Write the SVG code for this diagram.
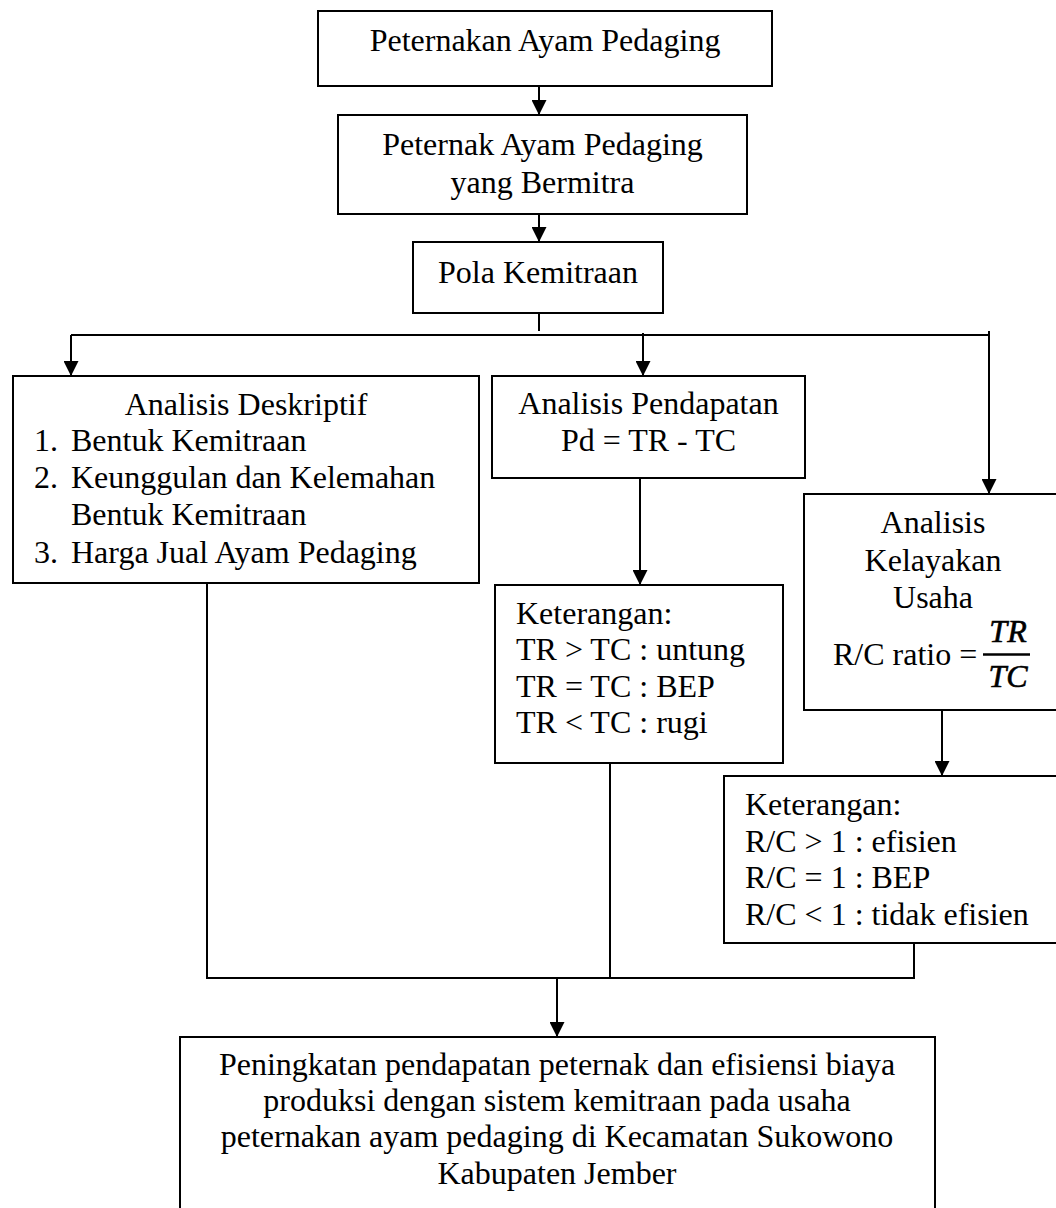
<svg xmlns="http://www.w3.org/2000/svg" width="1056" height="1208" viewBox="0 0 1056 1208">
  <style>
    .box { fill: none; stroke: #000; stroke-width: 2; }
    .t { font-family: "Liberation Serif", "Times New Roman", serif; font-size: 32px; fill: #000; }
    .c { text-anchor: middle; }
    .math { font-family: "Liberation Serif", "Times New Roman", serif; font-size: 32px; font-style: italic; fill: #000; stroke: #000; stroke-width: 0.6; text-anchor: middle; }
    .conn { fill: none; stroke: #000; stroke-width: 2; }
    .arrow { marker-end: url(#head); }
  </style>
  <defs>
    <marker id="head" viewBox="0 0 14 14" refX="14" refY="7" markerWidth="15" markerHeight="15" markerUnits="userSpaceOnUse" orient="auto">
      <path d="M0,0 L14,7 L0,14 z" fill="#000"/>
    </marker>
  </defs>

  <rect x="0" y="0" width="1056" height="1208" fill="#fff"/>

  <!-- connectors -->
  <g id="connectors">
    <line class="conn arrow" x1="539" y1="86" x2="539" y2="115"/>
    <line class="conn arrow" x1="539" y1="214" x2="539" y2="242"/>
    <line class="conn" x1="539" y1="313" x2="539" y2="331"/>
    <line class="conn" x1="71" y1="335" x2="990" y2="335"/>
    <line class="conn arrow" x1="71" y1="335" x2="71" y2="376"/>
    <line class="conn arrow" x1="643" y1="333" x2="643" y2="376"/>
    <line class="conn arrow" x1="989" y1="331" x2="989" y2="494"/>
    <line class="conn arrow" x1="640" y1="478" x2="640" y2="585"/>
    <line class="conn arrow" x1="942" y1="710" x2="942" y2="776"/>
    <polyline class="conn" points="207,583 207,978 914,978 914,943"/>
    <line class="conn" x1="610" y1="763" x2="610" y2="978"/>
    <line class="conn arrow" x1="557" y1="978" x2="557" y2="1037"/>
  </g>

  <!-- nodes -->
  <g id="peternakan">
    <rect class="box" x="318" y="11" width="454" height="75"/>
    <text class="t c" x="545" y="51">Peternakan Ayam Pedaging</text>
  </g>

  <g id="peternak-bermitra">
    <rect class="box" x="338" y="115" width="409" height="99"/>
    <text class="t c" x="542.5" y="155">Peternak Ayam Pedaging</text>
    <text class="t c" x="542.5" y="193">yang Bermitra</text>
  </g>

  <g id="pola-kemitraan">
    <rect class="box" x="413" y="242" width="250" height="71"/>
    <text class="t c" x="538" y="283">Pola Kemitraan</text>
  </g>

  <g id="analisis-deskriptif">
    <rect class="box" x="13" y="376" width="466" height="207"/>
    <text class="t c" x="246" y="415">Analisis Deskriptif</text>
    <text class="t" x="34" y="451">1.</text>
    <text class="t" x="71" y="451">Bentuk Kemitraan</text>
    <text class="t" x="34" y="488">2.</text>
    <text class="t" x="71" y="488">Keunggulan dan Kelemahan</text>
    <text class="t" x="71" y="525">Bentuk Kemitraan</text>
    <text class="t" x="34" y="563">3.</text>
    <text class="t" x="71" y="563">Harga Jual Ayam Pedaging</text>
  </g>

  <g id="analisis-pendapatan">
    <rect class="box" x="492" y="376" width="313" height="102"/>
    <text class="t c" x="648.5" y="414">Analisis Pendapatan</text>
    <text class="t c" x="648.5" y="451">Pd = TR - TC</text>
  </g>

  <g id="keterangan-pendapatan">
    <rect class="box" x="495" y="585" width="288" height="178"/>
    <text class="t" x="516" y="624">Keterangan:</text>
    <text class="t" x="516" y="660">TR &gt; TC : untung</text>
    <text class="t" x="516" y="697">TR = TC : BEP</text>
    <text class="t" x="516" y="733">TR &lt; TC : rugi</text>
  </g>

  <g id="analisis-kelayakan">
    <rect class="box" x="804" y="494" width="260" height="216"/>
    <text class="t c" x="933" y="533">Analisis</text>
    <text class="t c" x="933" y="571">Kelayakan</text>
    <text class="t c" x="933" y="608">Usaha</text>
    <text class="t" x="833" y="665">R/C ratio =</text>
    <text class="math" x="1008" y="642">TR</text>
    <line x1="983" y1="654.5" x2="1030" y2="654.5" stroke="#000" stroke-width="2.5"/>
    <text class="math" x="1008" y="687">TC</text>
  </g>

  <g id="keterangan-kelayakan">
    <rect class="box" x="724" y="776" width="340" height="167"/>
    <text class="t" x="745" y="815">Keterangan:</text>
    <text class="t" x="745" y="852">R/C &gt; 1 : efisien</text>
    <text class="t" x="745" y="888">R/C = 1 : BEP</text>
    <text class="t" x="745" y="925">R/C &lt; 1 : tidak efisien</text>
  </g>

  <g id="peningkatan">
    <rect class="box" x="180" y="1037" width="755" height="185"/>
    <text class="t c" x="557" y="1075">Peningkatan pendapatan peternak dan efisiensi biaya</text>
    <text class="t c" x="557" y="1111">produksi dengan sistem kemitraan pada usaha</text>
    <text class="t c" x="557" y="1147">peternakan ayam pedaging di Kecamatan Sukowono</text>
    <text class="t c" x="557" y="1184">Kabupaten Jember</text>
  </g>
</svg>
